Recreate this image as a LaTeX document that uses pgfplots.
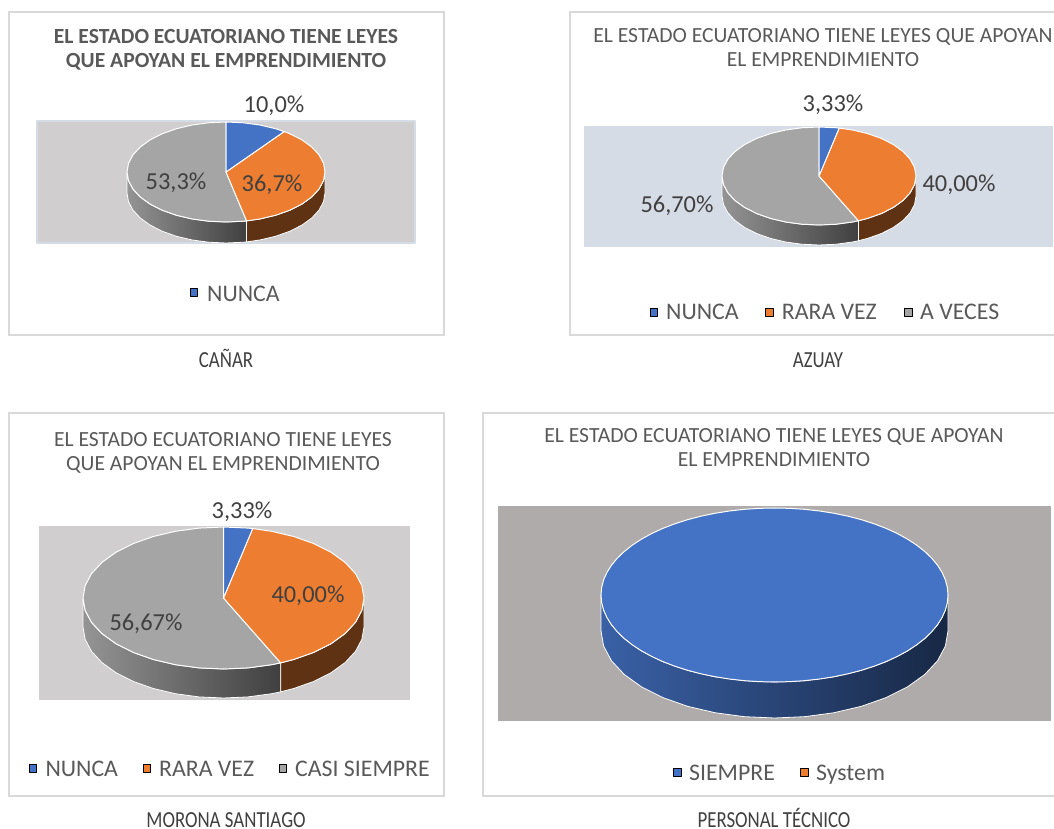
\documentclass[border=0pt]{standalone}
\usepackage{fontspec}
\setmainfont{Carlito}
\usepackage{pgfplots}
\usepackage{pgfplotstable}
\pgfplotsset{compat=1.18}
\definecolor{cblue}{HTML}{4472C4}
\definecolor{corange}{HTML}{ED7D31}
\definecolor{cgrey}{HTML}{A5A5A5}
\definecolor{ctitle}{HTML}{595959}
\definecolor{clabel}{HTML}{404040}
\definecolor{cframe}{HTML}{D9D9D9}
% a = angle clockwise from the top (3.6 deg = 1 %), r = radius, z = 1 on the lower rim
\pgfplotstableread[row sep=\\]{a r z\\0 0 0\\0 1 0\\10 1 0\\20 1 0\\30 1 0\\36 1 0\\}\Ablue
\pgfplotstableread[row sep=\\]{a r z\\0 0 0\\36 1 0\\40 1 0\\50 1 0\\60 1 0\\70 1 0\\80 1 0\\90 1 0\\100 1 0\\110 1 0\\120 1 0\\130 1 0\\140 1 0\\150 1 0\\160 1 0\\168 1 0\\}\Aorange
\pgfplotstableread[row sep=\\]{a r z\\0 0 0\\168 1 0\\170 1 0\\180 1 0\\190 1 0\\200 1 0\\210 1 0\\220 1 0\\230 1 0\\240 1 0\\250 1 0\\260 1 0\\270 1 0\\280 1 0\\290 1 0\\300 1 0\\310 1 0\\320 1 0\\330 1 0\\340 1 0\\350 1 0\\360 1 0\\}\Agrey
\pgfplotstableread[row sep=\\]{a r z\\90 1 0\\100 1 0\\110 1 0\\120 1 0\\130 1 0\\140 1 0\\150 1 0\\160 1 0\\168 1 0\\168 1 1\\160 1 1\\150 1 1\\140 1 1\\130 1 1\\120 1 1\\110 1 1\\100 1 1\\90 1 1\\}\Asideorange
\pgfplotstableread[row sep=\\]{a r z\\168 1 0\\170 1 0\\180 1 0\\190 1 0\\200 1 0\\210 1 0\\220 1 0\\230 1 0\\240 1 0\\250 1 0\\260 1 0\\270 1 0\\270 1 1\\260 1 1\\250 1 1\\240 1 1\\230 1 1\\220 1 1\\210 1 1\\200 1 1\\190 1 1\\180 1 1\\170 1 1\\168 1 1\\}\Asidegrey
\pgfplotstableread[row sep=\\]{a r z\\0 0 0\\0 1 0\\10 1 0\\12 1 0\\}\Bblue
\pgfplotstableread[row sep=\\]{a r z\\0 0 0\\12 1 0\\20 1 0\\30 1 0\\40 1 0\\50 1 0\\60 1 0\\70 1 0\\80 1 0\\90 1 0\\100 1 0\\110 1 0\\120 1 0\\130 1 0\\140 1 0\\150 1 0\\156 1 0\\}\Borange
\pgfplotstableread[row sep=\\]{a r z\\0 0 0\\156 1 0\\160 1 0\\170 1 0\\180 1 0\\190 1 0\\200 1 0\\210 1 0\\220 1 0\\230 1 0\\240 1 0\\250 1 0\\260 1 0\\270 1 0\\280 1 0\\290 1 0\\300 1 0\\310 1 0\\320 1 0\\330 1 0\\340 1 0\\350 1 0\\360 1 0\\}\Bgrey
\pgfplotstableread[row sep=\\]{a r z\\90 1 0\\100 1 0\\110 1 0\\120 1 0\\130 1 0\\140 1 0\\150 1 0\\156 1 0\\156 1 1\\150 1 1\\140 1 1\\130 1 1\\120 1 1\\110 1 1\\100 1 1\\90 1 1\\}\Bsideorange
\pgfplotstableread[row sep=\\]{a r z\\156 1 0\\160 1 0\\170 1 0\\180 1 0\\190 1 0\\200 1 0\\210 1 0\\220 1 0\\230 1 0\\240 1 0\\250 1 0\\260 1 0\\270 1 0\\270 1 1\\260 1 1\\250 1 1\\240 1 1\\230 1 1\\220 1 1\\210 1 1\\200 1 1\\190 1 1\\180 1 1\\170 1 1\\160 1 1\\156 1 1\\}\Bsidegrey
\pgfplotstableread[row sep=\\]{a r z\\0 1 0\\5 1 0\\10 1 0\\15 1 0\\20 1 0\\25 1 0\\30 1 0\\35 1 0\\40 1 0\\45 1 0\\50 1 0\\55 1 0\\60 1 0\\65 1 0\\70 1 0\\75 1 0\\80 1 0\\85 1 0\\90 1 0\\95 1 0\\100 1 0\\105 1 0\\110 1 0\\115 1 0\\120 1 0\\125 1 0\\130 1 0\\135 1 0\\140 1 0\\145 1 0\\150 1 0\\155 1 0\\160 1 0\\165 1 0\\170 1 0\\175 1 0\\180 1 0\\185 1 0\\190 1 0\\195 1 0\\200 1 0\\205 1 0\\210 1 0\\215 1 0\\220 1 0\\225 1 0\\230 1 0\\235 1 0\\240 1 0\\245 1 0\\250 1 0\\255 1 0\\260 1 0\\265 1 0\\270 1 0\\275 1 0\\280 1 0\\285 1 0\\290 1 0\\295 1 0\\300 1 0\\305 1 0\\310 1 0\\315 1 0\\320 1 0\\325 1 0\\330 1 0\\335 1 0\\340 1 0\\345 1 0\\350 1 0\\355 1 0\\}\Cblue
\pgfplotstableread[row sep=\\]{a r z\\90 1 0\\100 1 0\\110 1 0\\120 1 0\\130 1 0\\140 1 0\\150 1 0\\160 1 0\\170 1 0\\180 1 0\\190 1 0\\200 1 0\\210 1 0\\220 1 0\\230 1 0\\240 1 0\\250 1 0\\260 1 0\\270 1 0\\270 1 1\\260 1 1\\250 1 1\\240 1 1\\230 1 1\\220 1 1\\210 1 1\\200 1 1\\190 1 1\\180 1 1\\170 1 1\\160 1 1\\150 1 1\\140 1 1\\130 1 1\\120 1 1\\110 1 1\\100 1 1\\90 1 1\\}\Cside
\newcommand\slice[2]{\addplot[#1] table[
  x expr=\cx+\rx*\thisrow{r}*sin(\thisrow{a}),
  y expr=\cy-\ry*\thisrow{r}*cos(\thisrow{a})+\dep*\thisrow{z}] {#2} --cycle;}
\newcommand\ttl[4]{\node[text=ctitle,anchor=base,inner sep=0pt,yshift=-1pt] at (axis cs:#1,#2) {\fontsize{21.6}{23}\selectfont #4#3};}
\newcommand\lab[3]{\node[text=clabel,anchor=base,inner sep=0pt,yshift=-1pt] at (axis cs:#1,#2) {\fontsize{24.4}{26}\selectfont #3};}
\newcommand\leg[3]{\node[text=ctitle,anchor=base west,inner sep=0pt,yshift=-1pt] at (axis cs:#1,#2) {\fontsize{23.8}{26}\selectfont #3};}
\newcommand\capt[3]{\node[text=clabel,anchor=base,inner sep=0pt,yshift=-1pt] at (axis cs:#1,#2) {\scalebox{0.82}[1]{\fontsize{23}{25}\selectfont #3}};}
\pgfplotsset{panel/.style={
  scale only axis, anchor=south west, y dir=reverse, clip=false,
  xtick=\empty, ytick=\empty, axis line style={cframe,line width=1.4pt},
  every axis plot/.append style={line join=round}},
  lm/.style={only marks,mark=square*,mark size=3.9pt,mark options={draw=none,fill=#1}},
  top/.style={fill=#1,draw=white,line width=1pt},
  sideo/.style={fill=#1,draw=white,line width=.8pt},
}
\begin{document}
\begin{tikzpicture}[x=1pt,y=1pt]
\path[use as bounding box] (0,0) rectangle (1054,829);
\clip (0,0) rectangle (1054,829);
% ---------------- CANAR
\def\cx{226}\def\cy{172}\def\rx{99}\def\ry{50}\def\dep{21}
\begin{axis}[panel,at={(9pt,494pt)},width=435pt,height=323pt,xmin=9,xmax=444,ymin=12,ymax=335]
\addplot[fill={rgb,255:red,208;green,206;blue,206},draw={rgb,255:red,214;green,220;blue,229},line width=1.2pt] coordinates {(37,121) (415,121) (415,243) (37,243)} --cycle;
\slice{draw=white,line width=.8pt,shade,left color=cgrey!90!black,right color=black!75}{\Asidegrey}
\slice{sideo={corange!40!black}}{\Asideorange}
\slice{top=cgrey}{\Agrey}
\slice{top=corange}{\Aorange}
\slice{top=cblue}{\Ablue}
\addplot[lm=cblue] coordinates {(193.7,292.5)};
\ttl{226}{43}{EL ESTADO ECUATORIANO TIENE LEYES}{\bfseries}
\ttl{226}{67}{QUE APOYAN EL EMPRENDIMIENTO}{\bfseries}
\lab{274}{112}{10,0\%}
\lab{176}{189}{53,3\%}
\lab{272}{191}{36,7\%}
\leg{207}{301}{NUNCA}
\capt{226}{367}{CAÑAR}
\end{axis}
% ---------------- AZUAY
\def\cx{819}\def\cy{176}\def\rx{97}\def\ry{49}\def\dep{20}
\begin{axis}[panel,at={(570pt,494pt)},width=500pt,height=323pt,xmin=570,xmax=1070,ymin=12,ymax=335]
\addplot[fill={rgb,255:red,214;green,220;blue,229},draw=none] coordinates {(584,126) (1053,126) (1053,247) (584,247)} --cycle;
\slice{draw=white,line width=.8pt,shade,left color=cgrey!90!black,right color=black!75}{\Bsidegrey}
\slice{sideo={corange!40!black}}{\Bsideorange}
\slice{top=cgrey}{\Bgrey}
\slice{top=corange}{\Borange}
\slice{top=cblue}{\Bblue}
\addplot[lm=cblue] coordinates {(653.7,312)};
\addplot[lm=corange] coordinates {(769,312)};
\addplot[lm=cgrey] coordinates {(908,312)};
\ttl{823}{42}{EL ESTADO ECUATORIANO TIENE LEYES QUE APOYAN}{}
\ttl{823}{66}{EL EMPRENDIMIENTO}{}
\lab{833}{111}{3,33\%}
\lab{959}{191}{40,00\%}
\lab{677}{212}{56,70\%}
\leg{666}{319}{NUNCA}
\leg{781.7}{319}{RARA VEZ}
\leg{920}{319}{A VECES}
\capt{818}{367}{AZUAY}
\end{axis}
% ---------------- MORONA SANTIAGO
\def\cx{223.5}\def\cy{598}\def\rx{140.5}\def\ry{71}\def\dep{29}
\begin{axis}[panel,at={(9pt,33pt)},width=435pt,height=383pt,xmin=9,xmax=444,ymin=413,ymax=796]
\addplot[fill={rgb,255:red,208;green,206;blue,206},draw=none] coordinates {(39,526) (410,526) (410,700) (39,700)} --cycle;
\slice{draw=white,line width=.8pt,shade,left color=cgrey!90!black,right color=black!75}{\Bsidegrey}
\slice{sideo={corange!40!black}}{\Bsideorange}
\slice{top=cgrey}{\Bgrey}
\slice{top=corange}{\Borange}
\slice{top=cblue}{\Bblue}
\addplot[lm=cblue] coordinates {(32.7,768)};
\addplot[lm=corange] coordinates {(146.7,768)};
\addplot[lm=cgrey] coordinates {(282.7,768)};
\ttl{223}{446}{EL ESTADO ECUATORIANO TIENE LEYES}{}
\ttl{223}{470}{QUE APOYAN EL EMPRENDIMIENTO}{}
\lab{242}{518}{3,33\%}
\lab{308}{601}{40,00\%}
\lab{146}{629}{56,67\%}
\leg{45.3}{775}{NUNCA}
\leg{159}{775}{RARA VEZ}
\leg{295}{775}{CASI SIEMPRE}
\capt{226}{826}{MORONA SANTIAGO}
\end{axis}
% ---------------- PERSONAL TECNICO
\def\cx{774.5}\def\cy{595}\def\rx{173.5}\def\ry{87}\def\dep{36}
\begin{axis}[panel,at={(483pt,33pt)},width=590pt,height=383pt,xmin=483,xmax=1073,ymin=413,ymax=796]
\addplot[fill={rgb,255:red,175;green,171;blue,171},draw=none] coordinates {(498,506) (1051,506) (1051,721) (498,721)} --cycle;
\slice{draw=white,line width=.8pt,shade,left color=cblue!85!black,middle color=cblue!55!black,right color=cblue!35!black}{\Cside}
\slice{top=cblue}{\Cblue}
\addplot[lm=cblue] coordinates {(677,772)};
\addplot[lm=corange] coordinates {(804,772)};
\ttl{774}{442}{EL ESTADO ECUATORIANO TIENE LEYES QUE APOYAN}{}
\ttl{774}{466}{EL EMPRENDIMIENTO}{}
\leg{689}{779}{SIEMPRE}
\leg{816}{779}{System}
\capt{774}{826}{PERSONAL TÉCNICO}
\end{axis}
\end{tikzpicture}
\end{document}
